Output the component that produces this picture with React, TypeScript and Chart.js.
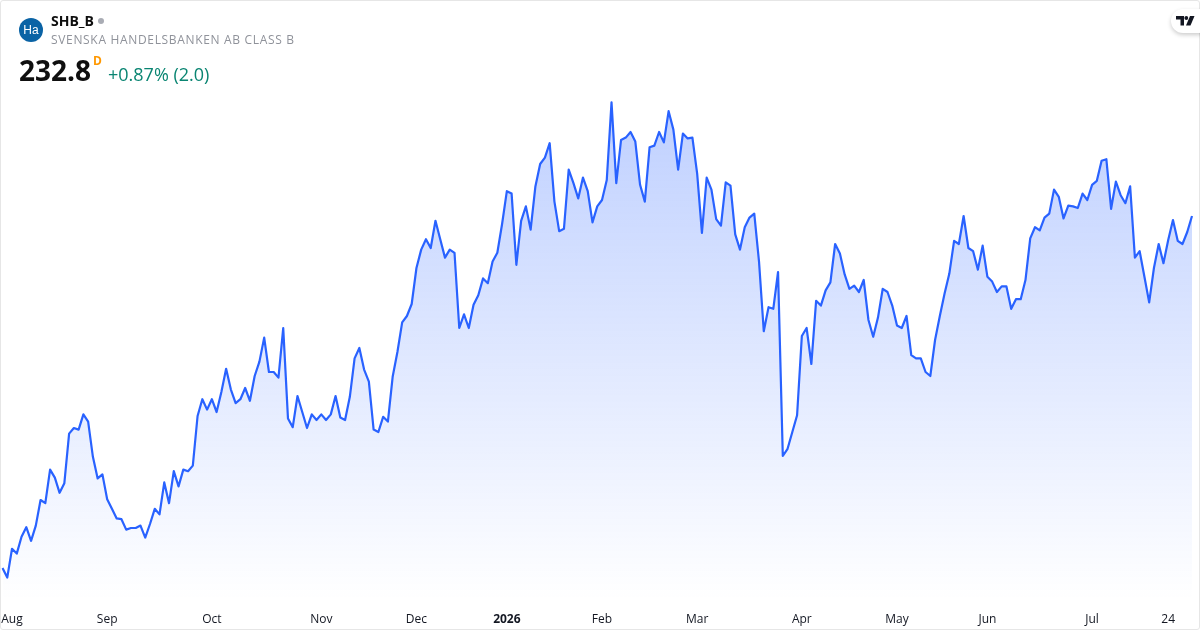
import React, { useEffect, useRef } from "react";
import { Chart, registerables } from "chart.js";

Chart.register(...registerables);

const closes = [
  188.8, 187.6, 191.2, 190.6, 192.7, 193.9, 192.2, 194.1, 197.3, 196.9, 201.1, 200.1, 198.2, 199.4, 205.6, 206.3, 206.1, 208.0, 207.1, 202.7,
  200.0, 200.5, 197.4, 196.2, 195.0, 194.9, 193.6, 193.8, 193.8, 194.1, 192.6, 194.3, 196.2, 195.5, 199.5, 196.9, 200.9, 199.0, 201.1, 200.9,
  201.6, 207.8, 209.9, 208.6, 209.9, 208.3, 210.8, 213.7, 211.1, 209.4, 209.9, 211.3, 209.7, 212.8, 214.6, 217.6, 213.3, 213.3, 212.6, 218.8,
  207.5, 206.4, 210.3, 208.3, 206.3, 208.0, 207.3, 208.0, 207.3, 208.0, 210.3, 207.6, 207.3, 210.2, 215.0, 216.3, 213.6, 212.1, 206.1, 205.8,
  207.7, 207.1, 212.7, 215.8,
  219.5, 220.3, 221.8, 226.3, 228.6, 229.9, 228.8, 232.2, 229.9, 227.6, 228.6, 228.2, 218.8, 220.5, 218.8, 221.7, 222.9, 225.0, 224.4, 227.1,
  228.2, 231.8, 235.9, 235.6, 226.7, 232.2, 234.0, 231.1, 236.5, 239.3, 240.1, 241.9, 234.6, 230.9, 231.2, 238.6, 236.9, 235.0, 237.6, 235.9,
  232.0, 234.0, 234.8, 237.3, 247.0, 236.9, 242.3, 242.6, 243.3, 242.1, 236.7, 234.6, 241.4, 241.6, 243.3, 242.0, 245.9, 243.6, 238.6, 243.1,
  242.5, 242.6, 238.1, 230.7, 237.6, 236.1, 232.4, 231.6, 237.0, 236.6, 230.5, 228.6, 231.4, 232.6, 233.1, 227.1, 218.4, 221.4, 221.2, 225.8,
  202.8, 203.7, 205.8, 207.9, 217.8, 218.8, 214.3, 222.2, 221.6, 223.5, 224.5, 229.3, 228.1, 225.5, 223.7, 224.1, 223.3, 224.8, 219.8, 217.7,
  220.1, 223.7, 223.3, 221.6, 219.1, 218.8, 220.3, 215.4, 215.0, 215.0, 213.3, 212.8, 217.3, 220.3, 223.1, 225.6, 229.7, 229.3, 232.8, 228.8,
  228.4, 226.1, 229.1, 225.2, 224.6, 223.3, 224.0, 224.0, 221.2, 222.4, 222.4, 224.8, 230.0, 231.4, 231.0, 232.6, 233.1, 236.1, 235.2, 232.5,
  234.1, 234.0, 233.8, 235.6, 234.8, 236.7, 237.2, 239.7, 239.9, 233.7, 237.1, 235.4, 234.4, 236.5, 227.6, 228.4, 225.2, 222.0, 226.3, 229.3,
  226.9, 229.8, 232.3, 229.7, 229.3, 230.8, 232.8,
];

const tickLabels = ["Aug", "Sep", "Oct", "Nov", "Dec", "2026", "Feb", "Mar", "Apr", "May", "Jun", "Jul", "24"];
const tickIndexes = [2, 22, 44, 67, 87, 106, 126, 146, 168, 188, 207, 229, 245];

const symbol = "SHB_B";
const companyName = "SVENSKA HANDELSBANKEN AB CLASS B";
const lastPrice = "232.8";
const changeText = "+0.87% (2.0)";

const FONT = '"Open Sans", "Noto Sans", sans-serif';

export default function App() {
  const ref = useRef<HTMLCanvasElement | null>(null);

  useEffect(() => {
    document.body.style.margin = "0";
    document.body.style.overflow = "hidden";
    const labels = closes.map((_, i) => {
      const k = tickIndexes.indexOf(i);
      return k >= 0 ? tickLabels[k] : "";
    });
    const chart = new Chart(ref.current as HTMLCanvasElement, {
      type: "line",
      data: {
        labels,
        datasets: [
          {
            data: closes,
            borderColor: "#2962ff",
            borderWidth: 2.2,
            pointRadius: 0,
            tension: 0,
            borderJoinStyle: "round",
            fill: "start",
            backgroundColor: (ctx: any) => {
              const { chart: c } = ctx;
              const area = c.chartArea;
              if (!area) return "rgba(41,98,255,0.1)";
              const g = c.ctx.createLinearGradient(0, 100, 0, area.bottom);
              g.addColorStop(0, "rgba(41,98,255,0.3)");
              g.addColorStop(1, "rgba(41,98,255,0)");
              return g;
            },
          },
        ],
      },
      options: {
        responsive: false,
        animation: false,
        layout: { padding: { left: 2.5, right: 8, top: 60, bottom: 0 } },
        plugins: { legend: { display: false }, tooltip: { enabled: false } },
        scales: {
          x: {
            type: "category",
            afterFit: (s: any) => {
              s.height = 30;
              s.paddingLeft = 0;
              s.paddingRight = 0;
            },
            grid: { display: false },
            border: { display: false },
            ticks: {
              autoSkip: false,
              maxRotation: 0,
              minRotation: 0,
              padding: 4,
              color: "#131722",
              font: (ctx: any) => ({
                family: FONT,
                size: 12,
                weight: ctx.tick && ctx.tick.label === "2026" ? "bold" : "normal",
              }),
            },
          },
          y: {
            display: false,
            min: 184.8,
            max: 252.3,
          },
        },
      },
    } as any);
    return () => chart.destroy();
  }, []);

  const abs = (o: React.CSSProperties): React.CSSProperties => ({
    position: "absolute",
    whiteSpace: "nowrap",
    fontFamily: FONT,
    lineHeight: 1,
    ...o,
  });

  return (
    <div style={{ position: "relative", width: 1200, height: 630, background: "#fff", overflow: "hidden" }}>
      <canvas ref={ref} width={1200} height={630} style={{ display: "block", position: "absolute", left: 0, top: 0 }} />
      <div
        style={{
          position: "absolute",
          inset: 0,
          border: "1px solid #e6e6e6",
          borderRadius: 3,
          boxSizing: "border-box",
          pointerEvents: "none",
        }}
      />
      <div
        style={{
          ...abs({ left: 19, top: 18, width: 24, height: 24, borderRadius: 12, background: "#0a63a5", color: "#fff", fontSize: 12, fontFamily: '"Liberation Sans", sans-serif' }),
          textAlign: "center",
          lineHeight: "24px",
        }}
      >
        Ha
      </div>
      <div style={abs({ left: 51, top: 14, fontSize: 14, fontWeight: 700, color: "#0f0f0f" })}>{symbol}</div>
      <div style={abs({ left: 98, top: 18, width: 6, height: 6, borderRadius: 3, background: "#a9acb4" })} />
      <div style={abs({ left: 51, top: 34, fontSize: 12, color: "#8f929a", letterSpacing: 0.67 })}>{companyName}</div>
      <div style={abs({ left: 19, top: 56, fontSize: 28, fontWeight: 700, color: "#0f0f0f" })}>{lastPrice}</div>
      <div style={abs({ left: 93, top: 55, fontSize: 12, fontWeight: 700, color: "#ff9800" })}>D</div>
      <div style={abs({ left: 108, top: 65, fontSize: 18, color: "#0a8572" })}>{changeText}</div>
      <div
        style={{
          position: "absolute",
          left: 1171,
          top: 9,
          width: 40,
          height: 24,
          borderRadius: 12,
          background: "#fff",
          boxShadow: "0 2px 4px rgba(0,0,0,0.2)",
        }}
      />
      <svg style={{ position: "absolute", left: 1176, top: 15 }} width="20" height="12" viewBox="0 0 20 12">
        <path fill="#131722" d="M0 1h8v9.5H4.5V4.5H0z" />
        <circle cx="10.3" cy="3" r="1.9" fill="#131722" />
        <path fill="#131722" d="M14 1h4.5l-4 9.5H10z" />
      </svg>
    </div>
  );
}
